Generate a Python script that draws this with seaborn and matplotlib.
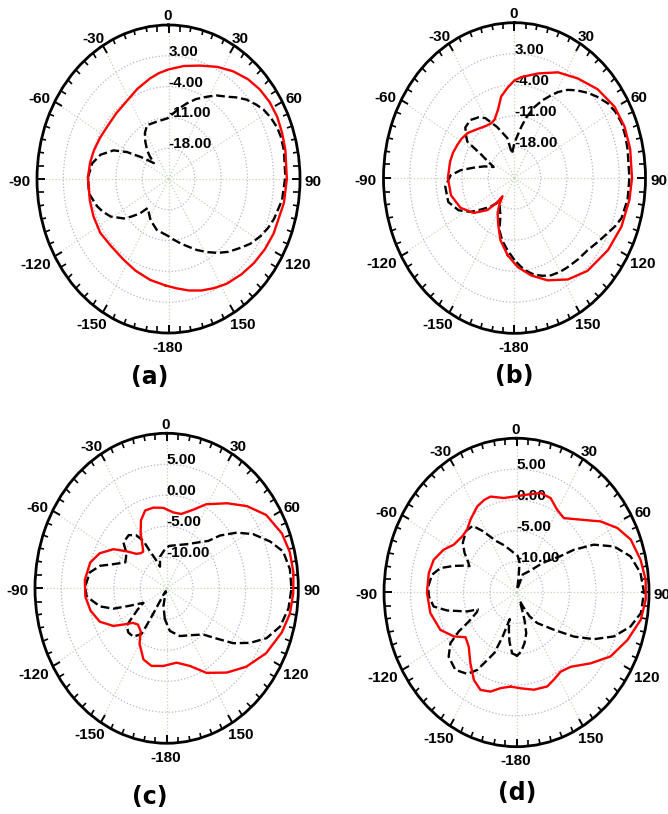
"""
Radiation patterns (a)-(d), red = co-pol, dashed = cross-pol
"""
import numpy as np
import matplotlib
matplotlib.use('Agg')
import matplotlib.pyplot as plt
import seaborn as sns

# ---- panel (a) ----
a_red_deg = [-178, -168, -157, -147, -135, -124, -113, -103, -89, -80, -72, -63, -54, -43,
             -31, -22, -12, -6, 0, 9, 18, 27, 35, 43, 50, 57, 64, 71, 78, 90, 100, 114,
             122, 130, 138, 147, 154, 161, 168, 175]
a_red_db = [-0.8, -1.55, -2.4, -3.1, -3.4, -3.1, -3.3, -3.5, -3.55, -3.8, -4.1, -4.5, -4.8, -4.6,
            -4.0, -2.9, -1.6, -0.8, -0.1, 1.0, 2.1, 3.6, 4.9, 6.0, 6.7, 7.1, 7.2, 7.0, 6.8, 6.5, 6.2, 5.6,
            5.2, 4.7, 4.1, 3.4, 2.6, 1.8, 0.9, -0.05]
a_blk_deg = [-180, -165, -153, -145, -140, -136, -131, -127, -119, -113, -108, -99, -89, -80,
             -73, -66, -61, -56, -51, -47, -44, -41, -36, -31, -25, -13, -1, 5, 10, 16, 22, 29,
             34, 40, 44, 49, 54, 58, 63, 68, 72, 78, 89, 99, 108, 113, 118, 124, 129, 136,
             142, 148, 155, 160, 167, 174]
a_blk_db = [-12.0, -13.0, -14.5, -15.8, -16.4, -14.2, -12.0, -10.1, -7.4, -6.0, -5.0, -3.6, -3.55, -4.4,
            -6.1, -9.0, -12.4, -16.0, -18.5, -19.7, -17.8, -16.3, -14.5, -12.8, -11.5, -11.6, -11.2, -10.0,
            -8.7, -7.1, -5.4, -3.6, -2.1, -0.6, 0.8, 2.5, 3.8, 4.8, 5.6, 6.2, 6.4, 6.4, 6.1, 5.6, 4.5, 3.7,
            2.7, 1.3, -0.2, -2.0, -3.7, -5.4, -7.2, -8.5, -9.9, -11.1]

# ---- panel (b) ----
b_red_deg = [-174, -165, -157, -150, -146, -142, -140, -135, -126, -115, -103, -90, -78, -71,
             -64, -58, -51, -45, -39, -33, -27, -22, -16, -11, -5, 0, 4.5, 15, 26, 37, 48, 59,
             68.5, 78, 90, 99, 111, 123, 137, 148, 159, 168.5, 177.5]
b_red_db = [-7.5, -10.5, -13.8, -16.0, -17.8, -19.8, -17.9, -14.8, -11.6, -9.1, -7.6, -7.2, -7.4, -7.6,
            -8.0, -8.3, -8.9, -9.8, -10.5, -11.0, -11.2, -10.8, -9.0, -6.3, -4.5, -3.0, -2.2, -0.6, 1.5,
            3.1, 4.9, 6.2, 6.6, 6.6, 6.4, 6.1, 5.6, 4.8, 3.6, 1.95, -0.3, -2.6, -4.9]
b_blk_deg = [-180, -173.5, -167, -161, -156, -148, -142, -135, -128, -123, -116, -107, -96, -88,
             -83, -78, -72, -66, -62, -59, -57, -53, -49, -42, -35, -30, -22, -12, -7, 0, 9, 13,
             18.5, 23, 28, 31, 35.5, 40, 45.5, 50, 56, 61, 66.5, 72, 78, 90, 99, 107.5, 112, 116.6,
             123, 130, 137, 145, 150, 156, 161, 166, 170.5, 174.7]
b_blk_db = [-6.5, -8.6, -10.5, -12.6, -15.8, -17.5, -18.1, -15.8, -13.4, -11.0, -8.4, -6.5, -6.4, -7.9,
            -10.5, -13.8, -16.5, -18.9, -16.8, -14.4, -10.0, -8.7, -7.6, -7.4, -8.3, -9.4, -12.6, -15.8,
            -19.5, -17.0, -13.3, -11.0, -8.1, -6.0, -3.8, -2.4, -0.6, 0.8, 2.4, 3.6, 5.1, 5.8, 6.2, 6.1,
            5.9, 5.7, 5.6, 5.0, 4.0, 2.8, 1.5, 0.4, 0.0, -0.4, -0.6, -1.0, -1.7, -2.5, -3.6, -4.8]

# ---- panel (c) ----
c_red_deg = [-177, -167, -159, -150, -144.5, -137, -131, -127, -121, -113, -104, -95, -85, -74,
             -66, -58, -52, -46, -41, -37, -33, -29, -24, -18, -11, -3, 6, 13, 22, 29, 40, 49,
             58, 68, 76, 84, 92, 100, 108, 119, 130, 140, 151, 160.5, 171]
c_red_db = [-2.45, -2.15, -2.7, -4.7, -6.5, -7.0, -6.5, -5.4, -3.2, -1.2, -0.1, 0.5, 0.6, 0.1,
            -1.1, -3.1, -5.3, -7.0, -7.5, -7.6, -6.5, -4.8, -3.0, -1.8, -1.75, -2.0, -2.7, -2.7, -1.3,
            0.5, 2.9, 5.2, 7.3, 8.6, 9.1, 9.2, 9.05, 8.75, 8.0, 6.6, 4.7, 2.75, 0.6, -1.7, -2.85]
c_blk_deg = [-176, -168, -160, -150, -148.5, -148, -147.5, -147, -141, -134.5, -128.6, -127, -122,
             -118, -112, -108, -103, -95, -89, -80, -74, -69, -62, -57, -53, -48, -40, -34, -30,
             -28, -24, -20, -14, -3, 4, 15, 28, 40, 46, 50, 56, 62, 69, 75, 82.5, 90, 98, 106, 113,
             119, 125, 130.5, 137, 146, 162, 175]
c_blk_db = [-10.0, -12.1, -14.5, -14.0, -12.0, -10.0, -7.8, -6.2, -4.95, -4.8, -5.3, -6.2, -8.5,
            -10.0, -7.5, -4.35, -2.0, 0.25, 0.5, -0.2, -1.85, -4.15, -6.1, -5.8, -5.4, -3.95, -3.8,
            -4.7, -6.2, -8.2, -10.0, -11.3, -9.75, -8.7, -8.15, -7.8, -6.95, -5.3, -4.0, -1.75, 1.05,
            3.6, 6.05, 7.9, 8.6, 8.7, 8.35, 7.4, 5.6, 3.15, 0.45, -2.5, -4.8, -5.9, -6.9, -8.1]

# ---- panel (d) ----
d_red_deg = [-175.8, -169, -163, -156.7, -150.4, -142.8, -134.3, -127, -121.1, -112.9, -101.6, -90,
             -79.2, -71.3, -63.2, -56.8, -48.5, -42.5, -36.4, -28, -22, -17.5, -8.9, 0, 7.3, 15.7,
             22.8, 29.7, 36.5, 45.7, 54, 61.2, 68.3, 77.3, 85.2, 92.8, 100.7, 110.2, 120.3, 129.4,
             139.7, 147.1, 153.6, 159.2, 168.3, 177.2]
d_red_db = [0.3, 0.8, 1.8, 2.2, 1.3, -0.6, -2.4, -2.95, -1.2, 0.6, 1.6, 1.9,
            1.85, 1.5, 0.4, -0.85, -1.3, -1.2, -0.35, 0.8, 1.2, 1.3, 0.5, 0.6, 1.0, 1.75,
            1.6, 0.45, 0.0, 1.9, 4.6, 6.7, 8.2, 9.0, 9.45, 9.4, 8.85, 7.3, 5.55, 3.1,
            0.8, 0.3, 0.8, 1.3, 1.1, 0.55]
d_blk_deg = [-180, -175.2, -170.5, -166, -163.5, -160, -157, -153.5, -149.4, -144.8, -137.4, -129.1,
             -123.4, -120.1, -117.6, -113, -110.5, -108.3, -102.6, -98.3, -92.2, -86.7, -79.8, -74.6,
             -70, -66, -64.3, -61.1, -56.7, -51.5, -43.7, -37.4, -32.6, -24.8, -17, -10.7, 2.4, 6.7,
             9, 14, 22, 35.3, 45.9, 54.4, 57.4, 62, 67.9, 74.8, 82.3, 90, 98.1, 104.4, 111.2, 117.4,
             123.4, 130.6, 135, 141.9, 147.5, 151.7, 156, 158.5, 161.3, 164.5, 169.6, 174.7, 179.7]
d_blk_db = [-4.8, -5.1, -6.9, -9.0, -10.5, -7.5, -4.4, -2.85, -0.4, 1.15, 2.05, 1.5,
            -0.05, -2.4, -4.85, -6.9, -7.2, -5.2, -1.6, 0.8, 1.55, 1.7, 1.2, -0.1,
            -2.4, -4.3, -5.15, -4.5, -3.25, -2.05, -1.2, -1.4, -3.2, -5.8, -7.0, -7.9, -9.1, -10.15,
            -12.5, -14.5, -11.85, -10.75, -8.1, -4.95, -2.15, 1.5, 4.85, 7.3, 8.6, 9.05, 8.7, 7.2, 4.7,
            1.45, -2.0, -5.7, -7.2, -8.7, -10.45, -12.3, -13.5, -12.6, -10.3, -8.15, -6.65, -5.4, -4.7]

theta_ticks = [0, 30, 60, 90, 120, 150, 180, 210, 240, 270, 300, 330]
theta_labels = ['0', '30', '60', '90', '120', '150', '-180', '-150', '-120', '-90', '-60', '-30']
ab_rings = [-18, -11, -4, 3]
cd_rings = [-10, -5, 0, 5]


def draw_panel(fig, rect, red_deg, red_db, blk_deg, blk_db, rlim, rings, tag, tag_xy):
    """draw one elliptical polar pattern"""
    ax = fig.add_axes(rect, projection='polar')
    ax.set_theta_zero_location('N')
    ax.set_theta_direction(-1)

    # close both curves
    for deg, db, ls, col in ((blk_deg, blk_db, '--', 'black'), (red_deg, red_db, '-', 'red')):
        th = np.deg2rad(np.append(deg, deg[0] + 360))
        r = np.append(db, db[0])
        sns.lineplot(x=th, y=r, ax=ax, sort=False, estimator=None,
                     color=col, linestyle=ls, linewidth=1.7, zorder=4)

    ax.set_ylim(rlim)
    ax.set_yticks(rings)
    ax.set_yticklabels([])
    ax.set_thetagrids(theta_ticks, [''] * len(theta_ticks))
    ax.set_xticks(np.deg2rad(np.arange(0, 360, 5)), minor=True)
    # outer ring ticks live on the "top" side of the theta axis
    ax.tick_params(axis='x', which='both', bottom=False, top=True, direction='in',
                   color='black')
    ax.tick_params(axis='x', which='major', length=6, width=1.4)
    ax.tick_params(axis='x', which='minor', length=4, width=1.2)
    ax.xaxis.grid(True, which='major', color='#c6d6b6', linestyle=':', linewidth=0.9)
    ax.yaxis.grid(True, color='#c0b2c8', linestyle=':', linewidth=0.9)
    ax.spines['polar'].set_linewidth(2)
    ax.spines['polar'].set_color('black')
    ax.set_xlabel('')
    ax.set_ylabel('')

    # angle labels, centred just outside the ellipse
    gap = 6
    for deg, lbl in zip(theta_ticks, theta_labels):
        w = 8.3 * sum(ch.isdigit() for ch in lbl) + 5 * lbl.count('-')
        t = np.deg2rad(deg)
        off = (np.sin(t) * (gap + w / 2) - 1, np.cos(t) * (gap + 5.5) - 3)
        ax.annotate(lbl, xy=(t, rlim[1]), xytext=off, textcoords='offset pixels',
                    ha='center', va='center', fontsize=11, fontweight='bold',
                    annotation_clip=False)

    for v in rings:
        ax.text(0, v, f'{v:.2f}', ha='left', va='baseline', fontsize=11,
                fontweight='bold', zorder=3)

    ax.set_aspect('auto')
    fig.text(tag_xy[0], tag_xy[1], tag, ha='center', va='center', fontsize=17,
             fontweight='bold', family='DejaVu Sans')
    return ax


sns.set_theme(style='white')
plt.rcParams['font.family'] = ['Liberation Sans', 'DejaVu Sans']
plt.rcParams['font.weight'] = 'bold'
plt.rcParams['text.color'] = 'black'

fig = plt.figure(figsize=(6.68, 8.14), dpi=100)

draw_panel(fig, [0.0554, 0.5909, 0.3937, 0.3784], a_red_deg, a_red_db, a_blk_deg, a_blk_db,
           (-25, 10), ab_rings, '(a)', (0.2238, 0.5369))
draw_panel(fig, [0.5741, 0.5905, 0.3922, 0.3816], b_red_deg, b_red_db, b_blk_deg, b_blk_db,
           (-25, 10), ab_rings, '(b)', (0.7695, 0.5381))
draw_panel(fig, [0.0524, 0.0869, 0.3942, 0.3808], c_red_deg, c_red_db, c_blk_deg, c_blk_db,
           (-15, 10), cd_rings, '(c)', (0.2246, 0.0209))
draw_panel(fig, [0.5749, 0.0827, 0.3967, 0.3789], d_red_deg, d_red_db, d_blk_deg, d_blk_db,
           (-15, 10), cd_rings, '(d)', (0.7740, 0.0258))

fig.savefig('out.png', dpi=100)
